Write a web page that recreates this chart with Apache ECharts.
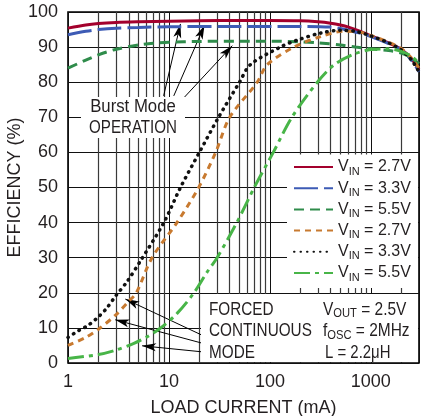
<!DOCTYPE html>
<html><head><meta charset="utf-8">
<script src="https://cdn.jsdelivr.net/npm/echarts@6/dist/echarts.min.js"></script>
<style>html,body{margin:0;padding:0;background:#fff}#c{width:422px;height:416px}</style>
</head><body><div id="c"></div>
<script>
const FONT = '"Liberation Sans", Arial, sans-serif';
const TXT = '#231f20';

// x tick labels (decades) and extra vertical grid lines
const xTickLabels = [1, 10, 100, 1000];
const gridX = [2,3,4,5,6,7,8,9,20,30,40,50,60,70,80,90,200,300,400,500,600,700,800,900,2000];
const boxTicksX = [30,40,50,60,70,80,90,200,300,400,500,600,700,800,900,2000];
const yTicks = [0,10,20,30,40,50,60,70,80,90,100];

// Burst Mode operation curves [load current mA, efficiency %]
const burst27 = [[1,95.4],[1.5,96.3],[2,96.7],[3,97.0],[5,97.2],[10,97.4],[20,97.5],[50,97.6],[100,97.6],[200,97.5],[300,97.2],[400,96.8],[500,96.3],[600,95.7],[800,94.4],[1000,93.2],[1500,91.2],[2000,89.4],[2500,86.8],[3000,83.6]];
const burst33 = [[1,93.5],[1.5,94.5],[2,95.0],[3,95.4],[5,95.6],[10,95.8],[50,95.9],[200,95.9],[400,95.7],[500,95.3],[600,94.8],[800,93.9],[1000,93.0],[1500,91.0],[2000,89.2],[2500,86.4],[3000,83.0]];
const burst55 = [[1,84.0],[1.5,86.3],[2,87.8],[3,89.4],[5,90.6],[7,91.1],[10,91.4],[20,91.6],[50,91.7],[100,91.7],[200,91.5],[300,91.2],[500,90.6],[700,90.0],[1000,89.5],[1500,89.0],[2000,88.3],[2500,87.0],[3000,85.3]];
// Forced continuous mode curves
const fcm27 = [[1,5.0],[1.5,7.3],[2,9.6],[3,13.8],[4,17.6],[4.75,20],[6.8,30],[12,40],[19.7,50],[29,60],[40,70],[75,80],[94,85],[173,90],[318,93],[540,94.5],[800,94.2],[1000,93.3],[1500,91.4],[2000,89.6],[2500,87.0],[3000,84.0]];
const fcm33 = [[1,7.3],[1.27,9.2],[1.56,10.6],[1.94,12.8],[2.4,15.5],[2.95,19],[3.85,23.2],[5.2,29],[8.9,40],[13,50],[20,60],[31,70],[50,80],[64,85],[127,90],[187,92],[318,94],[500,94.8],[700,94.5],[1000,93.2],[1500,91.2],[2000,89.2],[2500,86.5],[3000,83.0]];
const fcm55 = [[1,1.3],[2,2.4],[3,3.7],[4.5,5.6],[6.1,7.5],[8.2,9.9],[12.1,14.2],[17.6,19.9],[24,26],[30,30],[47,40],[70,50],[108,60],[165,70],[295,80],[434,85],[680,88],[1000,89.3],[1500,89.5],[2000,88.8],[2500,87.5],[3000,85.5]];

const seriesNames = ['b27','b33','b55','f27','f33','f55'];
const seriesVin = ['2.7V','3.3V','5.5V','2.7V','3.3V','5.5V'];

// annotation arrows [x0,y0,x1,y1] in data units
const burstArrows = [[8.86,76.1,13.0,96.6],[11.16,76.1,22.5,96.2],[12.8,74.3,42.4,90.4]];
const fcmArrows = [[21,8.0,3.7,18.2],[21,5.7,2.94,12.3],[21,3.2,5.42,4.9]];

const chart = echarts.init(document.getElementById('c'), null, {renderer:'canvas'});

function curve(name, data, color, type, width, cap) {
  return {
    name, type:'line', data, symbol:'none', showSymbol:false, smooth:0.3,
    lineStyle:{color, width, type, cap:cap||'butt'}, itemStyle:{color}, z:5, silent:true
  };
}

const rich = {
  a:{fontFamily:FONT, fontSize:16, color:TXT, lineHeight:20, verticalAlign:'middle'},
  s:{fontFamily:FONT, fontSize:11, color:TXT, lineHeight:8, verticalAlign:'bottom'}
};
const richSub = {
  b:{fontFamily:FONT, fontSize:18, color:TXT, lineHeight:20, verticalAlign:'middle'},
  t:{fontFamily:FONT, fontSize:13, color:TXT, lineHeight:8, verticalAlign:'bottom'}
};
function label(text, x, y, align, sx) {
  return {type:'text', x, y, zlevel:1, z:6, scaleX:sx, silent:true,
    style:{text, fill:TXT, font:'18px '+FONT, align, verticalAlign:'middle', rich:richSub}};
}

const option = {
  animation:false,
  backgroundColor:'#fff',
  grid:{left:68, top:12, right:3, bottom:53, show:true, borderColor:'#000', borderWidth:1.6,
    backgroundColor:'transparent', containLabel:false, outerBoundsMode:'none'},
  xAxis:{type:'log', logBase:10, min:1, max:3000,
    name:'LOAD CURRENT (mA)', nameLocation:'middle', nameGap:36, nameMoveOverlap:false,
    nameTextStyle:{fontFamily:FONT, fontSize:18, color:TXT},
    axisLine:{show:false}, axisTick:{show:false},
    axisLabel:{fontFamily:FONT, fontSize:18, color:TXT, margin:10,
      formatter:v => xTickLabels.indexOf(Math.round(v))>=0 && Math.abs(v-Math.round(v))<1e-6 ? String(Math.round(v)) : ''},
    splitLine:{show:true, lineStyle:{color:'#111', width:1}}},
  yAxis:{type:'value', min:0, max:100, interval:10,
    name:'EFFICIENCY (%)', nameLocation:'middle', nameGap:44, nameRotate:90, nameMoveOverlap:false,
    nameTextStyle:{fontFamily:FONT, fontSize:18, color:TXT},
    axisLine:{show:false}, axisTick:{show:false},
    axisLabel:{fontFamily:FONT, fontSize:18, color:TXT, margin:10, formatter:v => yTicks.indexOf(v)>=0 ? String(v) : ''},
    splitLine:{show:true, lineStyle:{color:'#111', width:1}}},
  legend:{orient:'vertical', left:293, top:159, itemGap:3.2, itemWidth:39, itemHeight:14, itemTextGap:4,
    data:seriesNames, padding:0, zlevel:1, z:6, selectedMode:false,
    itemStyle:{color:'rgba(0,0,0,0)', borderColor:'rgba(0,0,0,0)', borderWidth:0, opacity:0},
    formatter:n => '{a|V}{s|IN}{a| = ' + seriesVin[seriesNames.indexOf(n)] + '}',
    textStyle:{fontFamily:FONT, fontSize:16, color:TXT, rich}},
  graphic:[
    {type:'rect', zlevel:1, z:0, silent:true, shape:{x:81, y:97, width:104, height:41}, style:{fill:'#fff'}},
    {type:'rect', zlevel:1, z:0, silent:true, shape:{x:287, y:154.5, width:131, height:133.5}, style:{fill:'#fff'}},
    {type:'rect', zlevel:1, z:0, silent:true, shape:{x:201, y:294, width:217, height:68}, style:{fill:'#fff'}},
    label('Burst Mode', 133, 107, 'center', 0.93),
    label('OPERATION', 133, 128, 'center', 0.84),
    label('FORCED', 209, 310, 'left', 0.85),
    label('CONTINUOUS', 209, 331.5, 'left', 0.85),
    label('MODE', 209, 353, 'left', 0.85),
    label('{b|V}{t|OUT}{b| = 2.5V}', 323, 310, 'left', 0.86),
    label('{b|f}{t|OSC}{b| = 2MHz}', 323, 331.5, 'left', 0.86),
    label('L = 2.2μH', 325, 353, 'left', 0.83)
  ],
  series:[
    {name:'grid', type:'line', data:[], z:1, silent:true,
      markLine:{silent:true, symbol:'none', label:{show:false}, animation:false,
        lineStyle:{color:'#3a3a3a', width:1.2, type:'solid'},
        data:gridX.map(v => ({xAxis:v}))}},
    {name:'boxticks', type:'line', data:[], zlevel:1, z:2, silent:true,
      markLine:{silent:true, symbol:'none', label:{show:false}, animation:false,
        lineStyle:{color:'#222', width:1, type:'solid'},
        data:boxTicksX.map(v => [{coord:[v,0]},{coord:[v,1.3]}])}},
    curve('b27', burst27, '#a3002d', 'solid', 3),
    curve('b33', burst33, '#3d5bb5', [24,6], 3),
    curve('b55', burst55, '#2f8c4b', [10,6], 3),
    curve('f27', fcm27, '#c87a30', [6,5], 3),
    curve('f33', fcm33, '#111111', [0.5,6], 3.5, 'round'),
    curve('f55', fcm55, '#48b548', [16,5,4,5], 3),
    {name:'arrows', type:'line', data:[], zlevel:1, z:8, silent:true,
      markLine:{silent:true, symbol:['none','arrow'], symbolSize:[6,14], label:{show:false}, animation:false,
        lineStyle:{color:'#000', width:1, type:'solid'},
        data:burstArrows.concat(fcmArrows).map(a => [{coord:[a[0],a[1]]},{coord:[a[2],a[3]]}])}}
  ]
};
chart.setOption(option);
</script>
</body></html>
